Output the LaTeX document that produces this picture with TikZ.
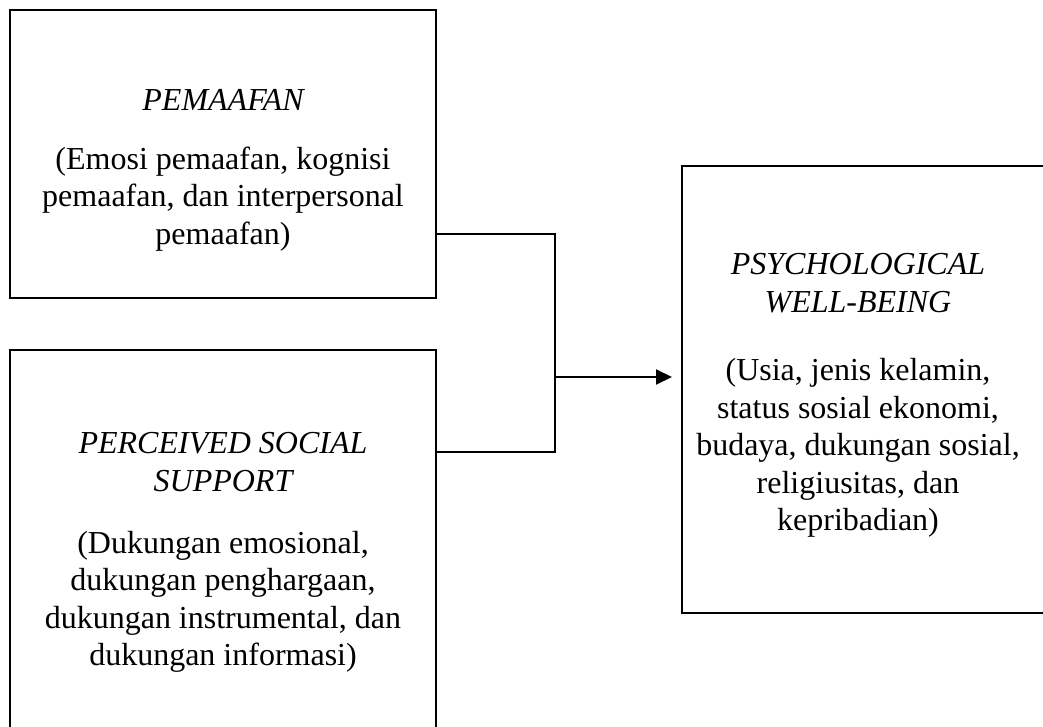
\documentclass[tikz,border=0pt]{standalone}
\usepackage{fontspec}
\setmainfont{Liberation Serif}
\usetikzlibrary{arrows.meta}
\begin{document}
\begin{tikzpicture}[x=1pt,y=-1pt,
  box/.style={draw=black, line width=1.7pt, rectangle, inner sep=0pt},
  txt/.style={align=center, font=\fontsize{32}{37.5}\selectfont, inner sep=0pt},
  ttl/.style={txt, font=\fontsize{32}{37.5}\selectfont\itshape},
  conn/.style={draw=black, line width=2pt},
  arr/.style={conn, -{Triangle[length=16pt,width=15pt]}}]
\useasboundingbox (0,0) rectangle (1043,727);
\clip (0,0) rectangle (1043,727);
\fill[white] (0,0) rectangle (1043,727);
% boxes
\node[box, minimum width=426pt, minimum height=288pt] (b1) at (223,154) {};
\node[box, minimum width=426pt, minimum height=400pt] (b2) at (223,550) {};
\node[box, minimum width=380pt, minimum height=447pt] (b3) at (872,389.5) {};
% texts
\node[ttl] (t1) at (223,100) {PEMAAFAN};
\node[txt] (d1) at (223,199) {(Emosi pemaafan, kognisi\\pemaafan, dan interpersonal\\pemaafan)};
\node[ttl] (t2) at (223,462) {PERCEIVED SOCIAL\\SUPPORT};
\node[txt] (d2) at (223,602) {(Dukungan emosional,\\dukungan penghargaan,\\dukungan instrumental, dan\\dukungan informasi)};
\node[ttl] (t3) at (858,283) {PSYCHOLOGICAL\\WELL-BEING};
\node[txt] (d3) at (858,448) {(Usia, jenis kelamin,\\status sosial ekonomi,\\budaya, dukungan sosial,\\religiusitas, dan\\kepribadian)};
% connectors
\coordinate (j) at (555,377);
\coordinate (tip) at (672,377);
\draw[conn] (b1.east |- 0,234) -| (j);
\draw[conn] (b2.east |- 0,452) -| (j);
\draw[arr] (j) -- (tip);
\end{tikzpicture}
\end{document}
